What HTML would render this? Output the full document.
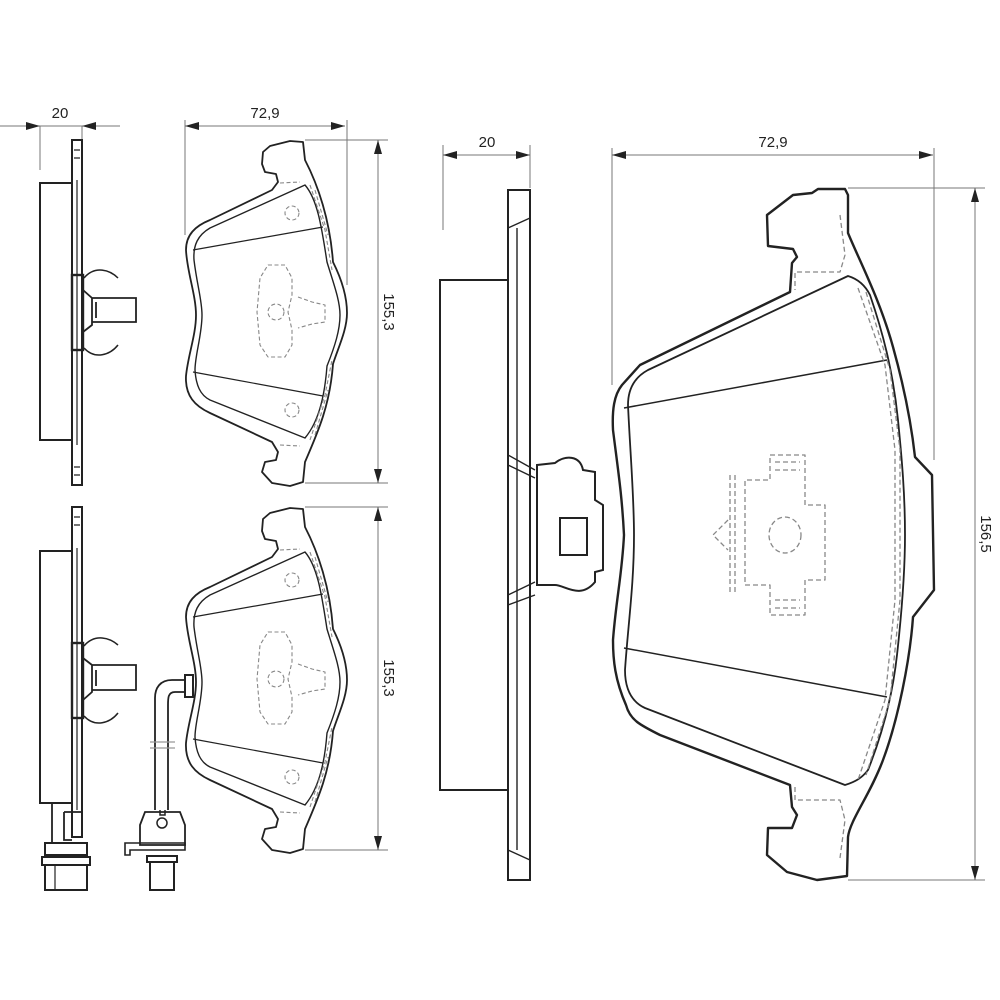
<!DOCTYPE html>
<html><head><meta charset="utf-8"><style>
html,body{margin:0;padding:0;background:#fff;}
svg{display:block}
text{font-family:"Liberation Sans",sans-serif;font-size:15px;fill:#222}
</style></head><body>
<svg width="1000" height="1000" viewBox="0 0 1000 1000" xmlns="http://www.w3.org/2000/svg">
<defs>
<g id="spad" fill="none" stroke="#222" stroke-width="1.8" stroke-linejoin="round">
  <path d="M270,146 L290,141 L303,142 L305,160 C318,185 330,220 333,262 C343,282 347,298 347,313 C347,330 338,348 333,364 C330,405 318,432 305,462 L303,482 L290,486 L272,483 L262,472 L265,462 L276,460 L278,452 L272,442 L210,413 C195,406 185,396 186,376 C188,355 196,335 196,315 C196,295 187,272 186,250 C186,235 195,226 210,220 L272,190 L278,182 L276,174 L265,172 L262,164 L263,152 Z"/>
  <path stroke-width="1.4" d="M305,185 L210,228 C198,235 193,245 194,260 C197,285 202,300 202,315 C202,335 195,355 195,370 C196,385 200,395 210,400 L305,438 C320,420 325,392 327,366 C335,346 340,330 340,315 C340,300 333,282 327,262 C322,230 318,200 305,185 Z"/>
  <path stroke-width="1.2" d="M193,250 L323,227 M193,372 L323,396"/>
  <g stroke="#888" stroke-width="1.1" stroke-dasharray="4,2.5">
    <circle cx="292" cy="213" r="7"/>
    <circle cx="292" cy="410" r="7"/>
    <path d="M268,265 L285,265 L292,278 L292,295 L288,312 L292,330 L292,345 L285,357 L268,357 L260,345 L257,312 L260,278 Z"/>
    <circle cx="276" cy="312" r="8"/>
    <path d="M298,297 L312,302 L325,305 L325,322 L312,324 L298,328"/>
    <path d="M310,185 L325,230 L332,270 M315,190 L328,235 M310,440 L325,395 L332,360 M315,435 L328,390"/>
    <path d="M280,183 L300,182 M280,445 L300,446"/>
  </g>
</g>
</defs>

<g stroke="#777" stroke-width="1" fill="#222">
  <line x1="0" y1="126" x2="120" y2="126"/>
  <line x1="40" y1="126" x2="40" y2="170"/>
  <line x1="82" y1="126" x2="82" y2="140"/>
  <path d="M40,126 l-14,-4 v8z M82,126 l14,-4 v8z" stroke="none"/>
  <line x1="185" y1="126" x2="345" y2="126"/>
  <line x1="185" y1="120" x2="185" y2="235"/>
  <line x1="347" y1="120" x2="347" y2="285"/>
  <path d="M185,126 l14,-4 v8z M345,126 l-14,-4 v8z" stroke="none"/>
  <line x1="305" y1="140" x2="388" y2="140"/>
  <line x1="305" y1="483" x2="388" y2="483"/>
  <line x1="378" y1="140" x2="378" y2="483"/>
  <path d="M378,140 l-4,14 h8z M378,483 l-4,-14 h8z" stroke="none"/>
  <line x1="305" y1="507" x2="388" y2="507"/>
  <line x1="305" y1="850" x2="388" y2="850"/>
  <line x1="378" y1="507" x2="378" y2="850"/>
  <path d="M378,507 l-4,14 h8z M378,850 l-4,-14 h8z" stroke="none"/>
  <line x1="443" y1="155" x2="530" y2="155"/>
  <line x1="443" y1="145" x2="443" y2="230"/>
  <line x1="530" y1="145" x2="530" y2="188"/>
  <path d="M443,155 l14,-4 v8z M530,155 l-14,-4 v8z" stroke="none"/>
  <line x1="612" y1="155" x2="933" y2="155"/>
  <line x1="612" y1="148" x2="612" y2="385"/>
  <line x1="934" y1="148" x2="934" y2="460"/>
  <path d="M612,155 l14,-4 v8z M933,155 l-14,-4 v8z" stroke="none"/>
  <line x1="848" y1="188" x2="985" y2="188"/>
  <line x1="848" y1="880" x2="985" y2="880"/>
  <line x1="975" y1="188" x2="975" y2="880"/>
  <path d="M975,188 l-4,14 h8z M975,880 l-4,-14 h8z" stroke="none"/>
</g>
<text x="60" y="118" text-anchor="middle">20</text>
<text x="265" y="118" text-anchor="middle">72,9</text>
<text x="487" y="147" text-anchor="middle">20</text>
<text x="773" y="147" text-anchor="middle">72,9</text>
<text transform="translate(384,312) rotate(90)" text-anchor="middle">155,3</text>
<text transform="translate(384,678) rotate(90)" text-anchor="middle">155,3</text>
<text transform="translate(981,534) rotate(90)" text-anchor="middle">156,5</text>

<g fill="none" stroke="#222" stroke-width="2">
  <rect x="72" y="140" width="10" height="345"/>
  <rect x="40" y="183" width="32" height="257"/>
  <path d="M74,150 h6 M74,158 h6 M74,467 h6 M74,475 h6" stroke-width="1.2"/>
  <line x1="77" y1="180" x2="77" y2="445" stroke-width="1.2"/>
  <rect x="72" y="275" width="11" height="75" stroke-width="2.4"/>
  <path d="M83,290 L92,298 L92,325 L83,332 M92,298 L136,298 L136,322 L92,322 M96,302 L96,318" stroke-width="1.8"/>
  <path d="M84,278 C95,265 110,270 118,278 M84,348 C95,360 110,355 118,345" stroke-width="1.5"/>

  <rect x="72" y="507" width="10" height="330"/>
  <rect x="40" y="551" width="32" height="252"/>
  <path d="M74,517 h6 M74,525 h6" stroke-width="1.2"/>
  <line x1="77" y1="548" x2="77" y2="810" stroke-width="1.2"/>
  <rect x="72" y="643" width="11" height="75" stroke-width="2.4"/>
  <path d="M83,658 L92,665 L92,692 L83,700 M92,665 L136,665 L136,690 L92,690 M96,670 L96,686" stroke-width="1.8"/>
  <path d="M84,646 C95,633 110,638 118,645 M84,716 C95,728 110,723 118,713" stroke-width="1.5"/>
  <path d="M52,803 L52,843 M64,812 L64,840 L72,840 M64,812 L82,812" stroke-width="1.8"/>
  <rect x="45" y="843" width="42" height="12"/>
  <rect x="42" y="857" width="48" height="8"/>
  <rect x="45" y="865" width="42" height="25"/>
  <line x1="55" y1="865" x2="55" y2="890" stroke-width="1.2"/>

  <path d="M185,680 L172,680 C160,680 155,688 155,698 L155,810 M185,692 L175,692 C168,692 168,698 168,705 L168,810" stroke-width="1.8"/>
  <rect x="185" y="675" width="8" height="22"/>
  <path d="M150,742 h25 M150,748 h25" stroke="#999" stroke-width="1.2"/>
  <path d="M160,810 L160,815 L165,815 L165,810" stroke-width="1.5"/>
  <path d="M140,825 L145,812 L180,812 L185,825 L185,845 L140,845 Z" stroke-width="1.8"/>
  <circle cx="162" cy="823" r="5" stroke-width="1.5"/>
  <path d="M125,843 L185,843 L185,850 L130,850 L130,855 L125,855 Z" stroke-width="1.6"/>
  <rect x="147" y="856" width="30" height="6"/>
  <rect x="150" y="862" width="24" height="28"/>

  <rect x="508" y="190" width="22" height="690"/>
  <rect x="440" y="280" width="68" height="510"/>
  <path d="M508,228 L530,218 M508,850 L530,860" stroke-width="1.4"/>
  <line x1="517" y1="228" x2="517" y2="850" stroke-width="1.4"/>
  <path d="M508,455 L535,470 M508,465 L535,478 M508,595 L535,582 M508,605 L535,595" stroke-width="1.4"/>
  <path d="M537,465 L555,463 C565,455 580,455 583,470 L595,472 L595,500 L603,505 L603,570 L595,572 L595,582 C580,600 565,585 555,585 L537,585 Z" stroke-width="2"/>
  <rect x="560" y="518" width="27" height="37"/>
</g>

<!-- big pad -->
<g fill="none" stroke="#222" stroke-width="2.4" stroke-linejoin="round">
  <path d="M793,195 L812,193 L818,189 L845,189 L848,195 L848,233 C860,262 880,300 893,347 C905,390 912,430 915,457 L932,475 L934,590 L913,617 C910,660 898,720 883,760 C870,795 850,820 848,837 L847,876 L817,880 L787,872 L767,855 L768,828 L792,828 L797,815 L792,807 L790,785 L660,735 C640,725 630,720 626,705 C615,680 613,660 613,640 C616,600 622,575 624,535 C622,495 618,470 613,430 C612,410 614,395 622,385 L640,365 L790,292 L792,263 L797,257 L793,249 L768,246 L767,215 Z"/>
  <path stroke-width="1.8" d="M848,276 L648,370 C635,377 628,388 628,405 C630,450 634,495 634,535 C634,585 628,625 625,670 C625,690 632,702 645,708 L845,785 C855,782 862,778 868,770 C880,740 892,700 897,655 C902,610 905,570 905,535 C905,495 902,460 898,420 C893,370 882,330 870,295 C865,285 858,279 848,276 Z"/>
  <path stroke-width="1.5" d="M624,408 L887,360 M624,648 L887,697"/>
  <g stroke="#888" stroke-width="1.3" stroke-dasharray="5,3">
    <path d="M840,215 L845,255 L840,272 L795,272 L795,290 M840,858 L845,820 L840,800 L795,800 L795,785"/>
    <path d="M858,288 L885,365 L895,450 L895,600 L885,700 L858,780"/>
    <path d="M866,292 L890,370 L900,450 L900,600 L890,700 L866,775"/>
    <path d="M770,455 L805,455 L805,505 L825,505 L825,580 L805,580 L805,615 L770,615 L770,585 L745,585 L745,480 L770,480 Z"/>
    <path d="M730,475 L730,595 M735,475 L735,595"/>
    <ellipse cx="785" cy="535" rx="16" ry="18"/>
    <path d="M728,520 L713,535 L728,550"/>
    <path d="M775,462 L800,462 M775,470 L800,470 M775,600 L800,600 M775,608 L800,608"/>
  </g>
</g>

<use href="#spad"/>
<use href="#spad" transform="translate(0,367)"/>
</svg>
</body></html>
